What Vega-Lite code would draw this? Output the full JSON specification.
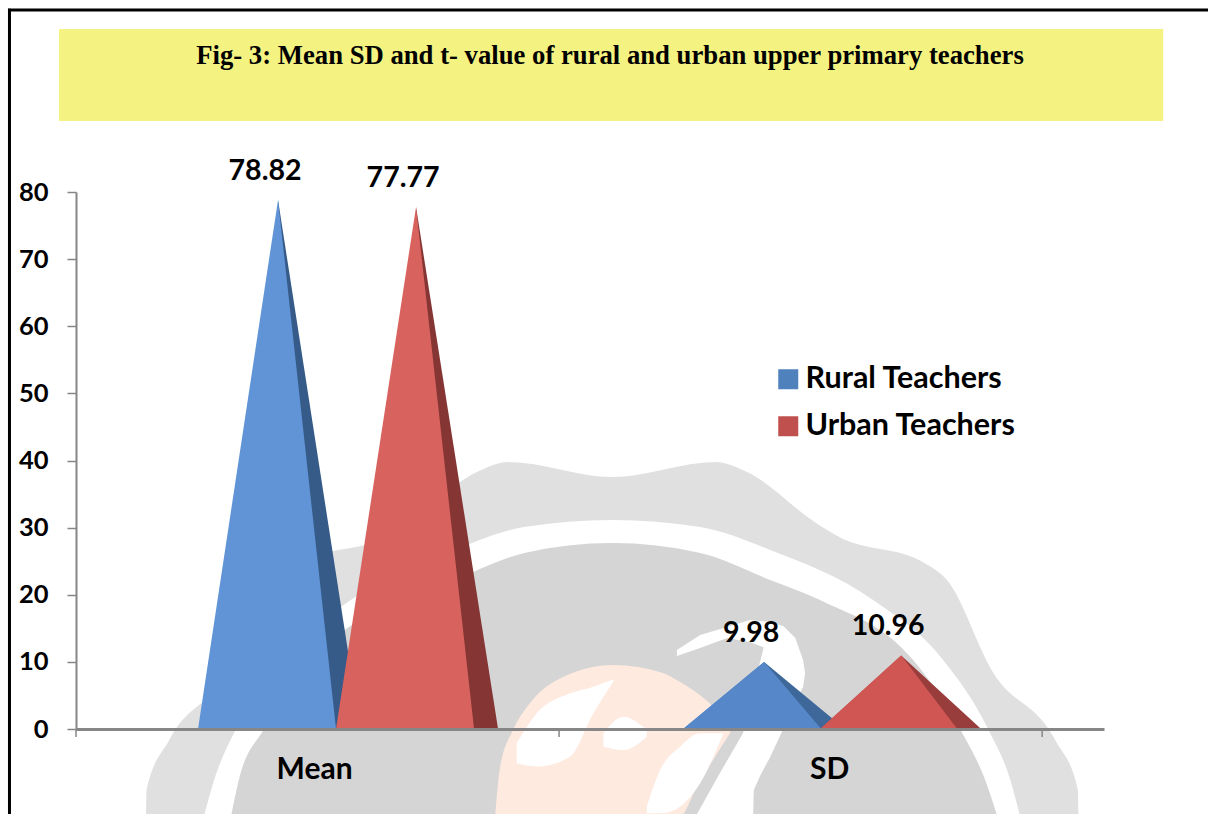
{
"$schema":"https://vega.github.io/schema/vega-lite/v6.json",
"width":1028,"height":537,
"autosize":{"type":"none"},
"padding":{"left":76,"top":192,"right":104,"bottom":85},
"background":"white",
"view":{"stroke":null},
"title":{"text":"Fig- 3:  Mean SD and t- value of rural and urban upper primary teachers","font":"Liberation Serif","fontWeight":"bold","fontSize":26.7,"color":"#000000","anchor":"middle","frame":"group","dx":20,"offset":-62},
"datasets":{
"frame":[{"part":"banner","x":-0.0352,"x2":2.2505,"y":104.28,"y2":90.58},{"part":"top","x":-0.1408,"x2":2.3437,"y":107.11},{"part":"left","x":-0.1377,"y":107.3,"y2":-12.96}],
"watermark":[
{"s":"outer","x":0.145,"y":-12.96,"y2":-12.96},{"s":"outer","x":0.146,"y":-9.09,"y2":-12.96},{"s":"outer","x":0.193,"y":-1.64,"y2":-12.96},{"s":"outer","x":0.321,"y":8.34,"y2":-12.96},{"s":"outer","x":0.416,"y":22.2,"y2":-12.96},{"s":"outer","x":0.464,"y":24.73,"y2":-12.96},{"s":"outer","x":0.64,"y":28.6,"y2":-12.96},{"s":"outer","x":0.687,"y":30.69,"y2":-12.96},{"s":"outer","x":0.83,"y":38.29,"y2":-12.96},{"s":"outer","x":0.894,"y":39.78,"y2":-12.96},{"s":"outer","x":1.11,"y":37.54,"y2":-12.96},{"s":"outer","x":1.325,"y":39.78,"y2":-12.96},{"s":"outer","x":1.389,"y":38.29,"y2":-12.96},{"s":"outer","x":1.532,"y":30.69,"y2":-12.96},{"s":"outer","x":1.58,"y":28.6,"y2":-12.96},{"s":"outer","x":1.756,"y":24.73,"y2":-12.96},{"s":"outer","x":1.803,"y":22.2,"y2":-12.96},{"s":"outer","x":1.899,"y":8.34,"y2":-12.96},{"s":"outer","x":2.027,"y":-1.64,"y2":-12.96},{"s":"outer","x":2.074,"y":-9.09,"y2":-12.96},{"s":"outer","x":2.075,"y":-12.96,"y2":-12.96},
{"s":"ring","x":0.265,"y":-12.96,"y2":-12.96},{"s":"ring","x":0.286,"y":-7.6,"y2":-12.96},{"s":"ring","x":0.331,"y":0,"y2":-12.96},{"s":"ring","x":0.424,"y":10.28,"y2":-12.96},{"s":"ring","x":0.569,"y":19.22,"y2":-12.96},{"s":"ring","x":0.783,"y":26.67,"y2":-12.96},{"s":"ring","x":0.928,"y":30.09,"y2":-12.96},{"s":"ring","x":1.11,"y":31.14,"y2":-12.96},{"s":"ring","x":1.292,"y":30.09,"y2":-12.96},{"s":"ring","x":1.437,"y":26.67,"y2":-12.96},{"s":"ring","x":1.65,"y":19.22,"y2":-12.96},{"s":"ring","x":1.795,"y":10.28,"y2":-12.96},{"s":"ring","x":1.888,"y":0,"y2":-12.96},{"s":"ring","x":1.934,"y":-7.6,"y2":-12.96},{"s":"ring","x":1.954,"y":-12.96,"y2":-12.96},
{"s":"dome","x":0.321,"y":-12.96,"y2":-12.96},{"s":"dome","x":0.337,"y":-7.6,"y2":-12.96},{"s":"dome","x":0.389,"y":0,"y2":-12.96},{"s":"dome","x":0.487,"y":10.28,"y2":-12.96},{"s":"dome","x":0.679,"y":19.22,"y2":-12.96},{"s":"dome","x":0.783,"y":22.2,"y2":-12.96},{"s":"dome","x":0.928,"y":26.22,"y2":-12.96},{"s":"dome","x":1.11,"y":27.71,"y2":-12.96},{"s":"dome","x":1.292,"y":26.22,"y2":-12.96},{"s":"dome","x":1.437,"y":22.2,"y2":-12.96},{"s":"dome","x":1.54,"y":19.22,"y2":-12.96},{"s":"dome","x":1.733,"y":10.28,"y2":-12.96},{"s":"dome","x":1.83,"y":0,"y2":-12.96},{"s":"dome","x":1.882,"y":-7.6,"y2":-12.96},{"s":"dome","x":1.907,"y":-12.96,"y2":-12.96},
{"s":"globe","x":0.8675,"y":-12.96,"y2":-12.96},{"s":"globe","x":0.8779,"y":-5.66,"y2":-12.96},{"s":"globe","x":0.9048,"y":-0.15,"y2":-12.96},{"s":"globe","x":0.94,"y":3.87,"y2":-12.96},{"s":"globe","x":1.0083,"y":7.75,"y2":-12.96},{"s":"globe","x":1.1118,"y":9.53,"y2":-12.96},{"s":"globe","x":1.2153,"y":8.34,"y2":-12.96},{"s":"globe","x":1.2505,"y":7.0,"y2":-12.96},{"s":"globe","x":1.2857,"y":5.36,"y2":-8.5},{"s":"globe","x":1.3188,"y":3.28,"y2":-4.6},{"s":"globe","x":1.354,"y":-0.15,"y2":-0.6},
{"s":"land","k":"a","x":0.9124,"y":-2.14,"y2":-5.11},{"s":"land","k":"a","x":0.9538,"y":2.33,"y2":-5.6},{"s":"land","k":"a","x":1.0228,"y":5.31,"y2":-4.12},{"s":"land","k":"a","x":1.071,"y":6.31,"y2":2.33},{"s":"land","k":"a","x":1.1125,"y":7.4,"y2":7.05},
{"s":"land","k":"b","x":1.0917,"y":-0.65,"y2":-2.63},{"s":"land","k":"b","x":1.1332,"y":1.84,"y2":-3.13},{"s":"land","k":"b","x":1.1816,"y":-0.15,"y2":-1.14},
{"s":"land","k":"c","x":1.1816,"y":-11.57,"y2":-12.56},{"s":"land","k":"c","x":1.2091,"y":-6.11,"y2":-12.56},{"s":"land","k":"c","x":1.2505,"y":-2.63,"y2":-11.57},{"s":"land","k":"c","x":1.2919,"y":-0.65,"y2":-8.09},{"s":"land","k":"c","x":1.3402,"y":-0.65,"y2":-0.65},
{"s":"hook","x":1.244,"y":11.77,"y2":10.88},{"s":"hook","x":1.292,"y":14.0,"y2":12.07},{"s":"hook","x":1.348,"y":15.2,"y2":13.56},{"s":"hook","x":1.395,"y":16.24,"y2":12.96},{"s":"hook","x":1.437,"y":15.94,"y2":11.77},
{"s":"band","x":1.2857,"y":-12.66,"y2":-12.96},{"s":"band","x":1.333,"y":-6.55,"y2":-12.96},{"s":"band","x":1.381,"y":-0.6,"y2":-12.96},{"s":"band","x":1.4017,"y":5.81,"y2":-12.96},{"s":"band","x":1.403,"y":6.2,"y2":-9.09},{"s":"band","x":1.416,"y":9.98,"y2":-7.0},{"s":"band","x":1.437,"y":15.94,"y2":-4.17},{"s":"band","x":1.464,"y":15.34,"y2":0},{"s":"band","x":1.489,"y":13.56,"y2":4.02},{"s":"band","x":1.505,"y":10.28,"y2":6.26},{"s":"band","x":1.509,"y":8.49,"y2":8.19}
],
"peaks":[
{"series":"Rural Teachers","stat":"Mean","part":"side","x":0.4182,"y":78.82},{"series":"Rural Teachers","stat":"Mean","part":"side","x":0.588,"y":0},
{"series":"Rural Teachers","stat":"Mean","part":"front","x":0.2526,"y":0},{"series":"Rural Teachers","stat":"Mean","part":"front","x":0.4182,"y":78.82},{"series":"Rural Teachers","stat":"Mean","part":"front","x":0.5383,"y":0},
{"series":"Urban Teachers","stat":"Mean","part":"side","x":0.7039,"y":77.77},{"series":"Urban Teachers","stat":"Mean","part":"side","x":0.8737,"y":0},
{"series":"Urban Teachers","stat":"Mean","part":"front","x":0.5383,"y":0},{"series":"Urban Teachers","stat":"Mean","part":"front","x":0.7039,"y":77.77},{"series":"Urban Teachers","stat":"Mean","part":"front","x":0.824,"y":0},
{"series":"Rural Teachers","stat":"SD","part":"side","x":1.4244,"y":9.98},{"series":"Rural Teachers","stat":"SD","part":"side","x":1.592,"y":0},
{"series":"Rural Teachers","stat":"SD","part":"front","x":1.2567,"y":0},{"series":"Rural Teachers","stat":"SD","part":"front","x":1.4244,"y":9.98},{"series":"Rural Teachers","stat":"SD","part":"front","x":1.5424,"y":0},
{"series":"Urban Teachers","stat":"SD","part":"side","x":1.7081,"y":10.96},{"series":"Urban Teachers","stat":"SD","part":"side","x":1.8737,"y":0},
{"series":"Urban Teachers","stat":"SD","part":"front","x":1.5404,"y":0},{"series":"Urban Teachers","stat":"SD","part":"front","x":1.7081,"y":10.96},{"series":"Urban Teachers","stat":"SD","part":"front","x":1.824,"y":0}
],
"values":[{"series":"Rural Teachers","stat":"Mean","x":0.4182,"y":78.82},{"series":"Urban Teachers","stat":"Mean","x":0.7039,"y":77.77},{"series":"Rural Teachers","stat":"SD","x":1.4244,"y":9.98},{"series":"Urban Teachers","stat":"SD","x":1.7081,"y":10.96}],
"ticks":[{"x":0,"y":0,"y2":-1.2},{"x":1,"y":0,"y2":-1.2},{"x":2,"y":0,"y2":-1.2}]
},
"encoding":{
"x":{"field":"x","type":"quantitative","scale":{"domain":[0,2.128],"nice":false,"zero":false},"axis":{"title":null,"grid":false,"values":[0.4928,1.559],"labelExpr":"datum.value<1?'Mean':'SD'","ticks":false,"tickSize":0,"domainColor":"#868686","domainWidth":3,"labelFont":"Lato","labelFontWeight":"bold","labelFontSize":30,"labelColor":"#000000","labelPadding":25,"zindex":1}},
"y":{"field":"y","type":"quantitative","stack":null,"scale":{"domain":[0,80],"nice":false},"axis":{"title":null,"grid":false,"values":[0,10,20,30,40,50,60,70,80],"tickSize":9,"tickColor":"#868686","tickWidth":1.5,"domainColor":"#868686","domainWidth":2,"labelFont":"Lato","labelFontWeight":"bold","labelFontSize":25.5,"labelColor":"#000000","labelPadding":19,"zindex":1}}
},
"layer":[
{"data":{"name":"watermark"},"transform":[{"filter":"datum.s=='outer'"}],"mark":{"type":"area","color":"#e0e0e0","interpolate":"monotone"},"encoding":{"y2":{"field":"y2"}}},
{"data":{"name":"watermark"},"transform":[{"filter":"datum.s=='ring'"}],"mark":{"type":"area","color":"#ffffff","interpolate":"monotone"},"encoding":{"y2":{"field":"y2"}}},
{"data":{"name":"watermark"},"transform":[{"filter":"datum.s=='dome'"}],"mark":{"type":"area","color":"#d5d5d5","interpolate":"monotone"},"encoding":{"y2":{"field":"y2"}}},
{"data":{"name":"watermark"},"transform":[{"filter":"datum.s=='globe'"}],"mark":{"type":"area","color":"#feeadf","interpolate":"monotone"},"encoding":{"y2":{"field":"y2"}}},
{"data":{"name":"watermark"},"transform":[{"filter":"datum.s=='land'"}],"mark":{"type":"area","color":"#ffffff","interpolate":"monotone"},"encoding":{"y2":{"field":"y2"},"detail":{"field":"k"}}},
{"data":{"name":"watermark"},"transform":[{"filter":"datum.s=='hook'"}],"mark":{"type":"area","color":"#ffffff"},"encoding":{"y2":{"field":"y2"}}},
{"data":{"name":"watermark"},"transform":[{"filter":"datum.s=='band'"}],"mark":{"type":"area","color":"#ffffff"},"encoding":{"y2":{"field":"y2"}}},
{"data":{"name":"frame"},"transform":[{"filter":"datum.part=='banner'"}],"mark":{"type":"rect","color":"#f4f382"},"encoding":{"x2":{"field":"x2"},"y2":{"field":"y2"}}},
{"data":{"name":"frame"},"transform":[{"filter":"datum.part=='top'"}],"mark":{"type":"rule","color":"#000000","strokeWidth":3},"encoding":{"x2":{"field":"x2"}}},
{"data":{"name":"frame"},"transform":[{"filter":"datum.part=='left'"}],"mark":{"type":"rule","color":"#000000","strokeWidth":3},"encoding":{"y2":{"field":"y2"}}},
{"data":{"name":"ticks"},"mark":{"type":"rule","color":"#868686","strokeWidth":1.5},"encoding":{"y2":{"field":"y2"}}},
{"data":{"name":"peaks"},"transform":[{"filter":"datum.series=='Rural Teachers'&&datum.stat=='Mean'&&datum.part=='side'"}],"mark":{"type":"area","color":"#365b89"}},
{"data":{"name":"peaks"},"transform":[{"filter":"datum.series=='Rural Teachers'&&datum.stat=='Mean'&&datum.part=='front'"}],"mark":{"type":"area","color":"#6094d6"}},
{"data":{"name":"peaks"},"transform":[{"filter":"datum.series=='Urban Teachers'&&datum.stat=='Mean'&&datum.part=='side'"}],"mark":{"type":"area","color":"#843534"}},
{"data":{"name":"peaks"},"transform":[{"filter":"datum.series=='Urban Teachers'&&datum.stat=='Mean'&&datum.part=='front'"}],"mark":{"type":"area","color":"#d8625e"}},
{"data":{"name":"peaks"},"transform":[{"filter":"datum.series=='Rural Teachers'&&datum.stat=='SD'&&datum.part=='side'"}],"mark":{"type":"area","color":"#3d6899"}},
{"data":{"name":"peaks"},"transform":[{"filter":"datum.stat=='SD'&&datum.part=='front'&&datum.series=='Rural Teachers'"}],"mark":{"type":"area"},"encoding":{"color":{"field":"series","type":"nominal","scale":{"domain":["Rural Teachers","Urban Teachers"],"range":["#4f81bd","#c0504d"]},"legend":{"title":null,"orient":"none","legendX":697,"legendY":172,"symbolType":"square","symbolSize":400,"symbolStrokeWidth":0,"labelFont":"Lato","labelFontWeight":"bold","labelFontSize":30.5,"labelColor":"#000000","labelOffset":2,"rowPadding":16,"labelLimit":400}}}},
{"data":{"name":"peaks"},"transform":[{"filter":"datum.stat=='SD'&&datum.part=='front'&&datum.series=='Rural Teachers'"}],"mark":{"type":"area","color":"#5587c9"}},
{"data":{"name":"peaks"},"transform":[{"filter":"datum.series=='Urban Teachers'&&datum.stat=='SD'&&datum.part=='side'"}],"mark":{"type":"area","color":"#993d3c"}},
{"data":{"name":"peaks"},"transform":[{"filter":"datum.series=='Urban Teachers'&&datum.stat=='SD'&&datum.part=='front'"}],"mark":{"type":"area"},"encoding":{"color":{"field":"series","type":"nominal"}}},
{"data":{"name":"peaks"},"transform":[{"filter":"datum.series=='Urban Teachers'&&datum.stat=='SD'&&datum.part=='front'"}],"mark":{"type":"area","color":"#d05654"}},
{"data":{"name":"values"},"mark":{"type":"text","font":"Lato","fontWeight":"bold","fontSize":28.5,"color":"#000000","dx":-13,"dy":-29},"encoding":{"text":{"field":"y","type":"quantitative","format":".2f"}}}
]
}
